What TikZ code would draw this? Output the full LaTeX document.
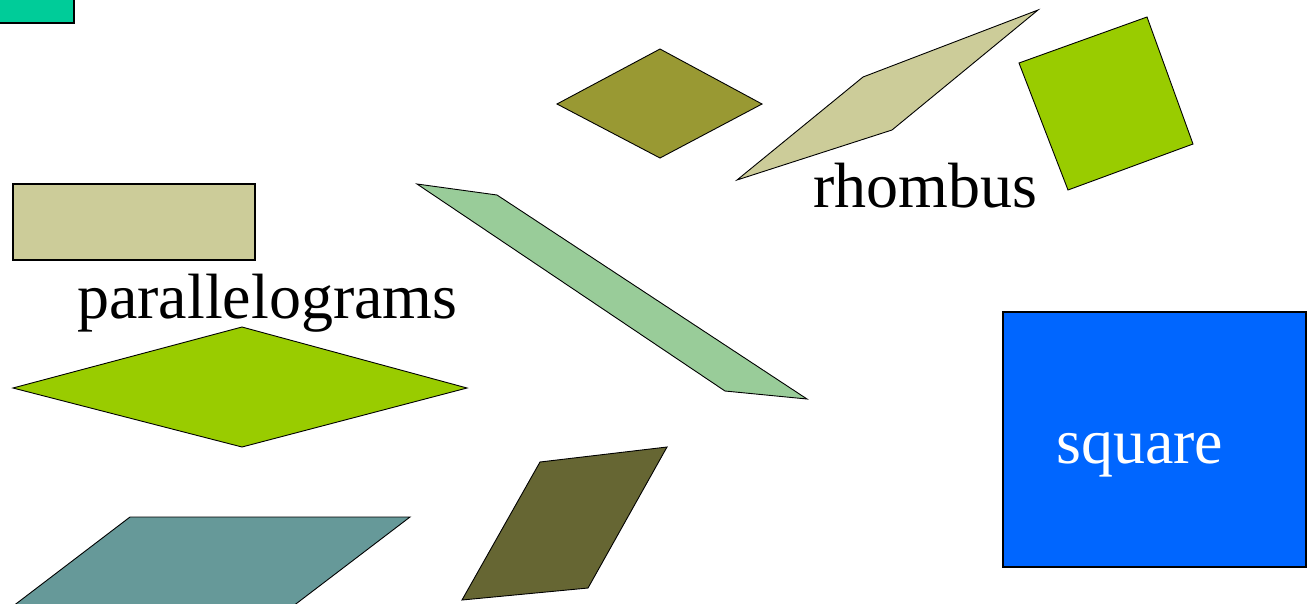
\documentclass[tikz,border=0pt]{standalone}
\usepackage{fontspec}
\setmainfont{Liberation Serif}
\definecolor{cTeal}{HTML}{00CC99}
\definecolor{cOlive}{HTML}{999933}
\definecolor{cTan}{HTML}{CCCC99}
\definecolor{cLime}{HTML}{99CC00}
\definecolor{cMint}{HTML}{99CC99}
\definecolor{cSlate}{HTML}{669999}
\definecolor{cDark}{HTML}{666633}
\definecolor{cBlue}{HTML}{0066FF}
\tikzset{
  shapethin/.style={draw=black, line width=0.9pt, line join=miter},
  shapethick/.style={draw=black, line width=2pt, line join=miter},
  lbl/.style={inner sep=0pt, anchor=base west, font=\fontsize{64}{70}\selectfont}
}
\begin{document}
\begin{tikzpicture}[x=1pt,y=-1pt]
\useasboundingbox (0,0) rectangle (1311,603);
\begin{scope}
\clip (0,0) rectangle (1311,603);
% top-left teal box
\filldraw[shapethick, fill=cTeal] (-5,-5) rectangle (74,23);
% olive rhombus
\filldraw[shapethin, fill=cOlive] (660,49) -- (762,104) -- (660,158) -- (557,104) -- cycle;
% tan thin rhombus
\filldraw[shapethin, fill=cTan] (1038,10) -- (892,130) -- (737,180) -- (863,77) -- cycle;
% lime tilted square
\filldraw[shapethin, fill=cLime] (1019,63) -- (1147,17) -- (1193,144) -- (1068,190) -- cycle;
% tan rectangle
\filldraw[shapethick, fill=cTan] (13,184) rectangle (255,260);
% mint long parallelogram
\filldraw[shapethin, fill=cMint] (417,184) -- (497,195) -- (807,399) -- (725,391) -- cycle;
% lime rhombus
\filldraw[shapethin, fill=cLime] (13,388) -- (242,327) -- (467,388) -- (242,447) -- cycle;
% slate parallelogram (cut at bottom)
\filldraw[shapethin, fill=cSlate] (130,517) -- (410,517) -- (284,613) -- (4,613) -- cycle;
% dark olive parallelogram
\filldraw[shapethin, fill=cDark] (540,462) -- (667,447) -- (588,588) -- (462,600) -- cycle;
% blue square
\filldraw[shapethick, fill=cBlue] (1003,312) rectangle (1306,567);
\end{scope}
\node[lbl] (rh) at (813,207) {rhombus};
\node[lbl] (pa) at (77,318) {parallelograms};
\node[lbl, text=white] (sq) at (1056,463) {square};
\end{tikzpicture}
\end{document}
